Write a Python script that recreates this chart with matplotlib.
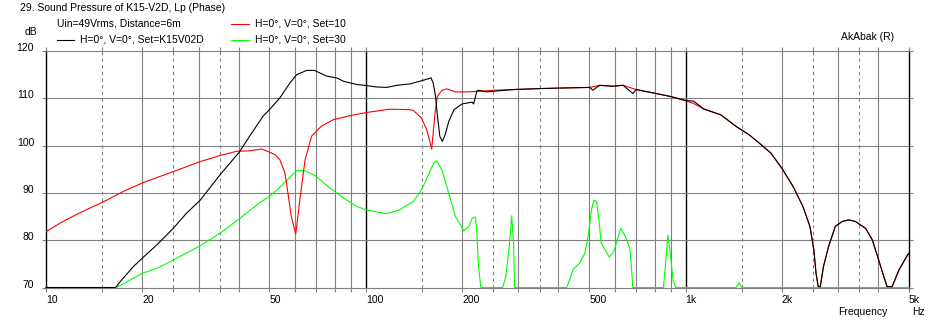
"""
AkAbak sound pressure plot, K15-V2D
"""
import matplotlib
matplotlib.use('Agg')
import matplotlib.pyplot as plt
from matplotlib.lines import Line2D

# ---- data -------------------------------------------------------------
black_f = [10, 16.5, 17.24, 18.75, 20, 22.2, 25, 27.5, 30.3, 35, 37.6, 40.2,
           43.3, 47.7, 50, 53.9, 58, 60.8, 65.4, 69.1, 75.4, 81.2, 85.2, 94,
           100.5, 108, 116.3, 125.3, 137.6, 151.1, 160, 162.5, 165.3, 167.6,
           170.5, 173.6, 177.2, 181.8, 188.8, 200, 215, 217.5, 222.5, 225,
           238.5, 289, 348, 425, 502, 513, 539, 593, 638, 685, 701, 811, 895,
           1010, 1060, 1140, 1290, 1440, 1580, 1700, 1850, 2000, 2170, 2330,
           2450, 2520, 2560, 2600, 2640, 2700, 2800, 2940, 3090, 3240, 3400,
           3660, 3840, 4020, 4170, 4270, 4430, 4650, 4950, 5000]
black_db = [70, 70, 71.6, 74.4, 76.2, 79.0, 82.5, 85.7, 88.4, 93.8, 96.3, 98.6,
            101.95, 106.2, 107.6, 110.1, 113.3, 115.0, 115.9, 115.9, 114.7,
            114.3, 113.6, 112.9, 112.7, 112.4, 112.3, 112.75, 113.05, 113.8,
            114.3, 113.25, 110.4, 106.2, 101.95, 100.9, 102.3, 105.1, 107.6,
            108.8, 109.2, 108.8, 111.5, 111.7, 111.35, 111.85, 112.05, 112.2,
            112.3, 111.7, 112.75, 112.55, 112.75, 111.0, 111.85, 111.0, 110.4,
            109.5, 109.4, 107.75, 106.5, 104.05, 102.3, 100.55, 98.4, 95.25,
            91.35, 87.1, 82.9, 77.95, 73.0, 70.2, 70.2, 74.4, 78.6, 82.9, 83.95,
            84.3, 83.95, 82.5, 80.05, 75.8, 72.3, 70.2, 70.2, 73.7, 76.9, 77.2]

red_f = [10, 11.06, 12.17, 13.72, 15, 17.45, 20, 25, 30.3, 35, 39.5, 43.5,
         47.2, 50, 52, 53.9, 55.9, 57.1, 58.5, 60.4, 62.2, 64.6, 67.7, 72.6,
         79.3, 89, 100.5, 119, 137.6, 141, 149.5, 155, 160.8, 164.7, 167.5,
         173, 179.5, 190.8, 207.8, 229, 250, 289, 348, 425, 502, 539, 593, 638,
         701, 811, 895, 1010, 1060, 1140, 1290, 1440, 1580, 1700, 1850, 2000,
         2170, 2330, 2450, 2520, 2560, 2600, 2640, 2700, 2800, 2940, 3090,
         3240, 3400, 3660, 3840, 4020, 4170, 4270, 4430, 4650, 4950, 5000]
red_db = [81.8, 83.6, 85.1, 86.8, 88.0, 90.3, 92.1, 94.5, 96.6, 97.9, 98.8,
          98.9, 99.3, 98.6, 98.1, 97.0, 94.2, 90.0, 85.0, 81.3, 88.5, 97.0,
          102.0, 104.1, 105.5, 106.3, 107.0, 107.7, 107.6, 107.4, 105.8, 103.4,
          99.3, 106.9, 110.4, 111.7, 112.0, 111.35, 111.35, 111.5, 111.7,
          111.85, 112.05, 112.2, 112.3, 112.75, 112.55, 112.75, 111.85, 111.0,
          110.4, 109.4, 108.9, 107.75, 106.5, 104.05, 102.3, 100.55, 98.4,
          95.25, 91.35, 87.1, 82.9, 77.95, 73.0, 70.2, 70.2, 74.4, 78.6, 82.9,
          83.95, 84.3, 83.95, 82.5, 80.05, 75.8, 72.3, 70.2, 70.2, 73.7, 76.9,
          77.2]

green_f = [16.5, 17.45, 20, 22.2, 25, 30.3, 35, 37.6, 42.3, 47.2, 50, 55.2,
           60.8, 64.6, 70, 77.3, 85.2, 94, 100.5, 116.3, 127.5, 137.6, 141,
           149.5, 157, 163, 166.5, 173, 181.8, 190.8, 202.6, 210, 215.3, 220.5,
           222.5, 225.3, 229, 268, 274, 281, 286, 290, 292, 425, 434, 445, 466,
           484, 496, 508, 517, 527, 536, 545, 578, 597, 627, 649, 670, 681, 684,
           853, 861, 881, 896, 914, 932, 1440, 1470, 1500, 5000]
green_db = [70, 70.75, 73.0, 74.05, 75.8, 78.8, 81.5, 83.0, 85.7, 88.2, 89.2,
            91.9, 94.7, 94.7, 93.5, 91.0, 88.9, 87.1, 86.4, 85.6, 86.4, 87.8,
            88.2, 90.65, 93.8, 96.3, 96.8, 94.9, 89.95, 85.0, 82.0, 82.9, 84.65,
            84.9, 81.5, 74.4, 70, 70, 72.3, 78.6, 85.15, 79.4, 70, 70, 71.6,
            73.85, 75.1, 77.2, 80.75, 86.4, 88.4, 88.2, 84.3, 79.4, 76.4, 77.6,
            82.5, 80.75, 78.3, 72.3, 70, 70, 73.0, 81.1, 77.2, 71.6, 70, 70,
            71.0, 70, 70]

x_ticks = [10, 15, 20, 25, 30, 35, 40, 50, 60, 70, 80, 90,
           100, 150, 200, 250, 300, 350, 400, 500, 600, 700, 800, 900,
           1000, 1500, 2000, 2500, 3000, 3500, 4000, 5000]
x_labels = {10: '10', 20: '20', 50: '50', 100: '100', 200: '200',
            500: '500', 1000: '1k', 2000: '2k', 5000: '5k'}
y_ticks = [70, 80, 90, 100, 110, 120]

W, H = 937, 324
GRAY = '#808080'
FS = 7.5
DECADES = (10, 100, 1000, 5000)
DASHED = (15, 25, 35, 150, 250, 350, 1500, 2500, 3500)

plt.rcParams['font.family'] = ['Liberation Sans', 'DejaVu Sans']


def fx(px):
    return px / W


def fy(py):
    return 1 - py / H


fig = plt.figure(figsize=(W / 100, H / 100), dpi=100)
ax = fig.add_axes([fx(46), fy(287.5), fx(909 - 46), (287.5 - 51) / H])

ax.set_xscale('log')
ax.set_xlim(10, 5000)
ax.set_ylim(70, 120)
ax.minorticks_off()

# сетка
for f in x_ticks:
    if f in (10, 5000):
        continue
    if f in DECADES:
        ax.axvline(f, color='black', lw=1.0, zorder=1)
    elif f in DASHED:
        ax.axvline(f, color=GRAY, lw=0.8, ls=(0, (3, 3)), zorder=1)
    else:
        ax.axvline(f, color=GRAY, lw=0.8, zorder=1)
for y in y_ticks[1:-1]:
    ax.axhline(y, color=GRAY, lw=0.8, zorder=1)

# кривые
ax.plot(green_f, green_db, color='#00ff00', lw=0.8, zorder=3, clip_on=False)
ax.plot(red_f, red_db, color='#ff0000', lw=0.8, zorder=4)
ax.plot(black_f, black_db, color='black', lw=0.8, zorder=5, clip_on=False)

# рамка
for side in ('top', 'bottom'):
    ax.spines[side].set_color(GRAY)
    ax.spines[side].set_linewidth(0.8)
for side in ('left', 'right'):
    ax.spines[side].set_color('black')
    ax.spines[side].set_linewidth(1.0)

# деления
ax.set_xticks(x_ticks)
ax.set_xticklabels([x_labels.get(f, '') for f in x_ticks])
ax.set_yticks(y_ticks)
ax.set_yticklabels([str(y) for y in y_ticks])
ax.tick_params(axis='x', which='major', direction='out', length=3,
               width=0.8, color=GRAY, top=True, pad=2.5, labelsize=FS)
ax.tick_params(axis='y', which='major', direction='out', length=3,
               width=0.8, color=GRAY, right=True, pad=5.5, labelsize=FS)
for tick, loc in zip(ax.xaxis.get_major_ticks(), x_ticks):
    if loc in DECADES:
        tick.tick1line.set_color('black')
        tick.tick2line.set_color('black')
for lbl in ax.get_xticklabels():
    lbl.set_horizontalalignment('left')
for lbl in ax.get_yticklabels():
    lbl.set_verticalalignment('baseline')

# подписи
fig.text(fx(20), fy(8), '29. Sound Pressure of K15-V2D, Lp (Phase)',
         fontsize=FS, va='center', ha='left')
fig.text(fx(57), fy(24), 'Uin=49Vrms, Distance=6m',
         fontsize=FS, va='center', ha='left')
fig.text(fx(37), fy(32), 'dB', fontsize=FS, va='center', ha='right')
fig.text(fx(894), fy(37), 'AkAbak (R)', fontsize=FS, va='center', ha='right')
fig.text(fx(838), fy(312), 'Frequency', fontsize=FS, va='center', ha='left')
fig.text(fx(912), fy(312), 'Hz', fontsize=FS, va='center', ha='left')

# легенда
legend_items = [
    (231, 249, 24, '#ff0000', 'H=0°, V=0°, Set=10'),
    (57, 74, 40, 'black', 'H=0°, V=0°, Set=K15V02D'),
    (231, 249, 40, '#00ff00', 'H=0°, V=0°, Set=30'),
]
for x0, x1, y, c, label in legend_items:
    fig.add_artist(Line2D([fx(x0), fx(x1)], [fy(y), fy(y)],
                          transform=fig.transFigure, color=c, lw=0.8))
    fig.text(fx(x1 + 6), fy(y), label, fontsize=FS, va='center', ha='left')

fig.savefig('out.png', dpi=100)
